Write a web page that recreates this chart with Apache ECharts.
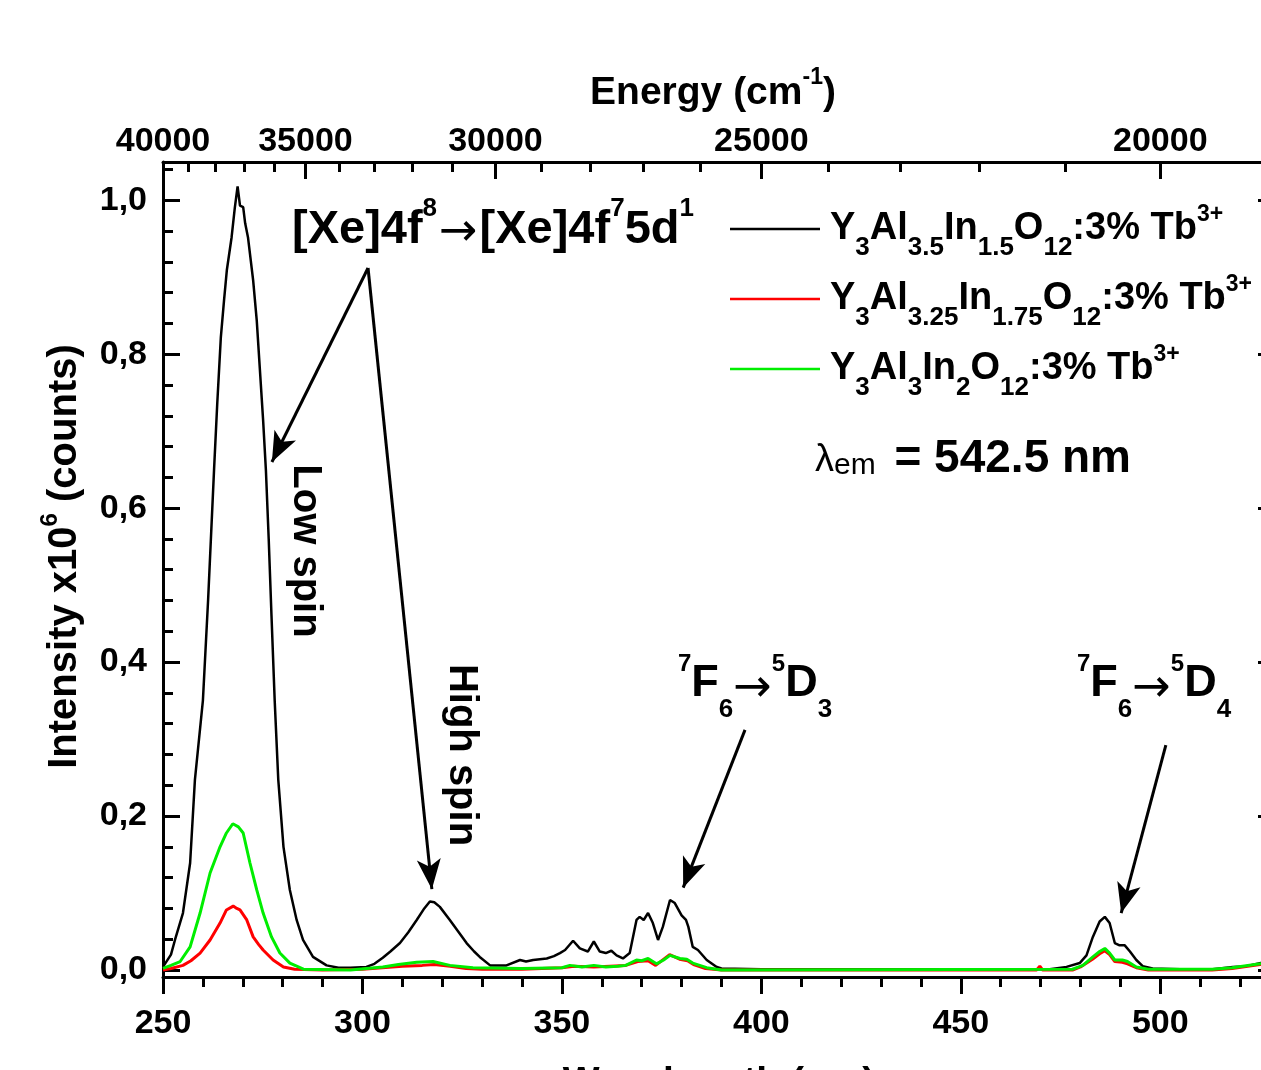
<!DOCTYPE html>
<html>
<head>
<meta charset="utf-8">
<script src="https://cdn.jsdelivr.net/npm/echarts@6/dist/echarts.min.js"></script>
<style>html,body{margin:0;padding:0;background:#fff;}#c{width:1261px;height:1070px;}</style>
</head>
<body>
<div id="c"></div>
<script>
// ---------- data ----------
const seriesNames = ['Y3Al3.5In1.5O12:3% Tb3+', 'Y3Al3.25In1.75O12:3% Tb3+', 'Y3Al3In2O12:3% Tb3+'];
const seriesColors = ['#000000', '#ff0000', '#00ee00'];

const blackData = [[250,0.004],[252,0.02],[253,0.039],[255,0.074],[256.8,0.139],[258,0.247],[260,0.35],[261.3,0.48],[262.8,0.65],[263.6,0.736],[264.5,0.822],[265.3,0.87],[266,0.909],[267.2,0.952],[268,0.99],[268.7,1.018],[269.3,0.993],[270.1,0.991],[270.6,0.97],[271.3,0.952],[272.6,0.896],[273.5,0.844],[274.3,0.779],[275.1,0.714],[275.8,0.649],[276.5,0.56],[277.2,0.46],[278,0.35],[278.9,0.247],[280.2,0.16],[281.8,0.104],[283.5,0.065],[285.1,0.039],[287.6,0.017],[291,0.006],[294,0.003],[297,0.003],[301,0.004],[303,0.008],[305.1,0.016],[307,0.024],[309.4,0.035],[311.5,0.049],[313.6,0.065],[315.5,0.08],[316.9,0.089],[318,0.088],[319.4,0.082],[321.9,0.065],[324,0.05],[326.1,0.035],[328,0.024],[329.4,0.017],[332,0.006],[336.1,0.006],[339.5,0.013],[341,0.011],[342.8,0.013],[346.2,0.015],[348,0.018],[349.5,0.022],[350.8,0.026],[352.8,0.038],[354.5,0.028],[356.5,0.024],[358,0.037],[359.5,0.024],[361,0.022],[362.4,0.025],[363.7,0.019],[365.3,0.015],[367,0.022],[368.7,0.065],[369.5,0.069],[370.5,0.065],[371.6,0.074],[372.8,0.061],[374.1,0.039],[375.3,0.056],[377.1,0.091],[378.3,0.087],[380,0.071],[381.1,0.065],[381.7,0.056],[382.8,0.03],[384.1,0.026],[386.3,0.013],[388.8,0.004],[390,0.002],[400,0.001],[420,0.001],[440,0.001],[460,0.001],[472.3,0.001],[476.5,0.004],[479.8,0.009],[481.5,0.019],[483.1,0.043],[484.8,0.063],[486.1,0.069],[487.3,0.061],[488.6,0.035],[489.8,0.032],[491.1,0.032],[492.4,0.024],[494,0.013],[495.6,0.005],[498.1,0.002],[505,0.001],[513.2,0.001],[518.2,0.004],[521.6,0.005],[525.2,0.009],[528.8,0.012]];

const redData = [[250,0.0],[252,0.002],[255,0.006],[257,0.012],[259.3,0.022],[261.8,0.039],[264.3,0.061],[265.9,0.078],[267.6,0.083],[268.5,0.08],[269.3,0.078],[271,0.065],[272.6,0.043],[274,0.033],[275.1,0.026],[277.6,0.013],[280.2,0.004],[283,0.001],[290,0.0],[300,0.001],[305,0.003],[310,0.005],[315,0.006],[318,0.007],[322,0.005],[326,0.002],[330,0.001],[340,0.001],[350,0.003],[353,0.005],[358,0.004],[362,0.005],[366,0.006],[369,0.011],[371.6,0.012],[373.5,0.006],[377,0.02],[379.5,0.014],[381.5,0.012],[383,0.007],[386,0.002],[390,0.0],[469,0.0],[469.8,0.005],[470.5,0.0],[478,0.0],[480,0.004],[483,0.014],[484.8,0.021],[486.1,0.025],[487.3,0.02],[488.6,0.011],[490.5,0.01],[491.8,0.008],[494,0.003],[497,0.0],[513,0.0],[518,0.002],[525,0.007],[528.8,0.01]];

const greenData = [[250,0.002],[252,0.006],[254.3,0.011],[256.8,0.03],[259.3,0.074],[261.8,0.126],[264.3,0.16],[265.9,0.178],[267.5,0.19],[268.9,0.186],[270.1,0.178],[271.8,0.139],[273.5,0.104],[275.1,0.074],[277.2,0.043],[279.3,0.022],[281.8,0.009],[285.2,0.001],[297,0.0],[305.1,0.004],[309,0.007],[313.6,0.01],[317.7,0.011],[321.9,0.006],[327.7,0.003],[340,0.002],[350,0.003],[352,0.006],[355,0.004],[358,0.006],[361,0.004],[364,0.005],[366,0.006],[368.7,0.013],[370,0.012],[371.6,0.015],[373.7,0.008],[375.5,0.013],[377.1,0.019],[379.6,0.015],[381.3,0.014],[382.8,0.009],[386.3,0.003],[390,0.0],[478,0.001],[480.6,0.006],[483.1,0.017],[484.8,0.024],[486.1,0.028],[487.3,0.022],[488.6,0.013],[490.5,0.013],[491.8,0.011],[494,0.004],[497,0.001],[513,0.001],[518,0.003],[525,0.008],[528.8,0.011]];

// tick values
const wavelengthMajor = [250, 300, 350, 400, 450, 500];
const wavelengthMinor = [260, 270, 280, 290, 310, 320, 330, 340, 360, 370, 380, 390, 410, 420, 430, 440, 460, 470, 480, 490, 510, 520];
const energyMajor = [40000, 35000, 30000, 25000, 20000];
const energyMinor = [39000, 38000, 37000, 36000, 34000, 33000, 32000, 31000, 29000, 28000, 27000, 26000, 24000, 23000, 22000, 21000];
const yMajor = [0, 0.2, 0.4, 0.6, 0.8, 1.0];
const yMinor = [0.04, 0.08, 0.12, 0.16, 0.24, 0.28, 0.32, 0.36, 0.44, 0.48, 0.52, 0.56, 0.64, 0.68, 0.72, 0.76, 0.84, 0.88, 0.92, 0.96, 1.04];

// annotation arrows: [tail, tip] in data coordinates (wavelength, intensity)
const arrowSegments = [
  [[301.4, 0.912], [277.3, 0.660]],
  [[301.4, 0.912], [317.4, 0.105]],
  [[395.9, 0.312], [380.4, 0.107]],
  [[501.4, 0.292], [490.2, 0.074]]
];

const X_MIN = 250, X_MAX = 528.76, Y_MIN = -0.0091, Y_MAX = 1.0497;
const FONT = '"Liberation Sans", Arial, sans-serif';
const ARROW_FONT = '"DejaVu Sans", sans-serif';
const toNm = e => 1e7 / e;

// ---------- rich text helper ----------
function richBlock(base, specs) {
  const rich = {};
  for (const k in specs) {
    const [fs, fw, dy, fam, padL, padR] = specs[k];
    rich[k] = {
      fontFamily: fam || FONT, fontSize: fs, fontWeight: fw, color: '#000',
      height: fs, lineHeight: base * 2, verticalAlign: 'top',
      padding: [base + dy - fs / 2, padR || 0, 0, padL || 0]
    };
  }
  return rich;
}

const legendRich = richBlock(34, { f: [38, 'bold', 0, null, 5], m: [38, 'bold', 0], s: [26, 'bold', 19], p: [23, 'bold', -14] });
const legendText = {};
legendText[seriesNames[0]] = '{f|Y}{s|3}{m|Al}{s|3.5}{m|In}{s|1.5}{m|O}{s|12}{m|:3% Tb}{p|3+}';
legendText[seriesNames[1]] = '{f|Y}{s|3}{m|Al}{s|3.25}{m|In}{s|1.75}{m|O}{s|12}{m|:3% Tb}{p|3+}';
legendText[seriesNames[2]] = '{f|Y}{s|3}{m|Al}{s|3}{m|In}{s|2}{m|O}{s|12}{m|:3% Tb}{p|3+}';

const axisNameRich = richBlock(25, { m: [39, 'bold', 0], p: [23, 'bold', -15] });
const yNameRich = richBlock(25, { m: [40, 'bold', 0], p: [24, 'bold', -15] });
const xeRich = richBlock(40, { m: [47, 'bold', 0], p: [26, 'bold', -21], a: [46, 'normal', 3, ARROW_FONT, 2, 2] });
const fdRich = richBlock(40, { m: [45, 'bold', 0], s: [26, 'bold', 26], p: [24, 'bold', -20], a: [46, 'normal', 5, ARROW_FONT] });
const lamRich = richBlock(35, { l: [38, 'normal', 2], e: [30, 'normal', 7, null, 0, 6], m: [46, 'bold', 0] });

const axisLineStyle = { color: '#000', width: 3 };

function xAxisDef(pos, values, major) {
  return {
    type: 'value', position: pos, min: X_MIN, max: X_MAX,
    axisLine: { show: major, onZero: false, lineStyle: axisLineStyle },
    axisTick: { show: true, customValues: values, inside: pos === 'top', length: major ? 17 : 10, lineStyle: { color: '#000', width: 3 } },
    axisLabel: { show: major, customValues: values, color: '#000', fontFamily: FONT, fontWeight: 'bold', fontSize: 34,
      margin: pos === 'top' ? 3 : 30,
      formatter: pos === 'top' ? (v => String(Math.round(1e7 / v))) : (v => String(Math.round(v))) },
    splitLine: { show: false }
  };
}
function yAxisDef(pos, values, major, labels) {
  return {
    type: 'value', position: pos, min: Y_MIN, max: Y_MAX,
    axisLine: { show: major, onZero: false, lineStyle: axisLineStyle },
    axisTick: { show: true, customValues: values, inside: true, length: major ? 17 : 10, lineStyle: { color: '#000', width: 3 } },
    axisLabel: { show: labels, customValues: values, color: '#000', fontFamily: FONT, fontWeight: 'bold', fontSize: 34, margin: 16,
      formatter: v => v.toFixed(1).replace('.', ',') },
    splitLine: { show: false }
  };
}

const xAxes = [
  xAxisDef('bottom', wavelengthMajor, true),
  xAxisDef('bottom', wavelengthMinor, false),
  xAxisDef('top', energyMajor.map(toNm), true),
  xAxisDef('top', energyMinor.map(toNm), false)
];
Object.assign(xAxes[0], {
  name: 'Wavelength (nm)', nameLocation: 'middle', nameGap: 87,
  nameTextStyle: { color: '#000', fontFamily: FONT, fontWeight: 'bold', fontSize: 39 }
});
Object.assign(xAxes[2], {
  name: '{m|Energy (cm}{p|-1}{m|)}', nameLocation: 'middle', nameGap: 44,
  nameTextStyle: { rich: axisNameRich, padding: [0, 12, 0, 0] }
});
const yAxes = [
  yAxisDef('left', yMajor, true, true),
  yAxisDef('left', yMinor, false, false),
  yAxisDef('right', yMajor, true, false),
  yAxisDef('right', yMinor, false, false)
];
Object.assign(yAxes[0], {
  name: '{m|Intensity x10}{p|6}{m| (counts)}', nameLocation: 'middle', nameGap: 73, nameRotate: 90,
  nameTextStyle: { rich: yNameRich, padding: [0, 0, 0, 26] }
});

const seriesData = [blackData, redData, greenData];
const seriesWidths = [2.5, 3, 3];
const series = seriesNames.map((n, i) => ({
  name: n, type: 'line', data: seriesData[i], symbol: 'none', showSymbol: false,
  xAxisIndex: 0, yAxisIndex: 0, z: 2 + i,
  lineStyle: { color: seriesColors[i], width: seriesWidths[i] },
  itemStyle: { color: seriesColors[i] },
  emphasis: { disabled: true }
}));
series[0].markLine = {
  silent: true, animation: false,
  symbol: ['none', 'arrow'], symbolSize: [18, 30],
  label: { show: false },
  lineStyle: { color: '#000', width: 3, type: 'solid' },
  itemStyle: { color: '#000' },
  emphasis: { disabled: true },
  data: arrowSegments.map(s => [{ coord: s[0] }, { coord: s[1] }])
};

const option = {
  backgroundColor: '#fff',
  animation: false,
  grid: { left: 163, right: -14, top: 162, bottom: 93, containLabel: false, outerBoundsMode: 'none' },
  xAxis: xAxes,
  yAxis: yAxes,
  legend: {
    orient: 'vertical', left: 725, top: 190, itemGap: 4, itemWidth: 90, itemHeight: 14,
    selectedMode: false,
    data: seriesNames.map((n, i) => ({ name: n, icon: 'path://M0,0 L100,0 L100,3 L0,3 Z', itemStyle: { color: seriesColors[i] } })),
    formatter: n => legendText[n],
    textStyle: { rich: legendRich }
  },
  series: series,
  graphic: [
    { type: 'text', x: 292, y: 190, silent: true,
      style: { text: '{m|[Xe]4f}{p|8}{a|→}{m|[Xe]4f}{p|7}{m|5d}{p|1}', rich: xeRich, align: 'left', verticalAlign: 'top' } },
    { type: 'text', x: 678, y: 644, silent: true,
      style: { text: '{p|7}{m|F}{s|6}{a|→}{p|5}{m|D}{s|3}', rich: fdRich, align: 'left', verticalAlign: 'top' } },
    { type: 'text', x: 1077, y: 644, silent: true,
      style: { text: '{p|7}{m|F}{s|6}{a|→}{p|5}{m|D}{s|4}', rich: fdRich, align: 'left', verticalAlign: 'top' } },
    { type: 'text', x: 815, y: 424, silent: true,
      style: { text: '{l|λ}{e|em}{m| = 542.5 nm}', rich: lamRich, align: 'left', verticalAlign: 'top' } },
    { type: 'text', x: 305, y: 551, rotation: -Math.PI / 2, silent: true,
      style: { text: 'Low spin', fill: '#000', font: 'bold 40px ' + FONT, align: 'center', verticalAlign: 'middle' } },
    { type: 'text', x: 461, y: 755, rotation: -Math.PI / 2, silent: true,
      style: { text: 'High spin', fill: '#000', font: 'bold 40px ' + FONT, align: 'center', verticalAlign: 'middle' } }
  ]
};

const chart = echarts.init(document.getElementById('c'), null, { renderer: 'canvas' });
chart.setOption(option);
</script>
</body>
</html>
